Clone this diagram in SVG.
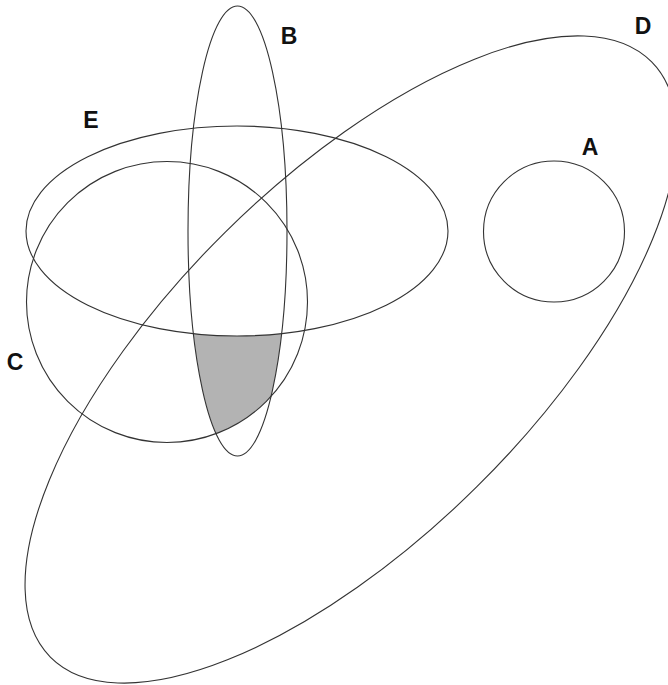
<svg xmlns="http://www.w3.org/2000/svg" width="668" height="685" viewBox="0 0 668 685">
<style>
.set{fill:none;stroke:#333;stroke-width:1.1}
.lbl{font-family:"Liberation Sans",Arial,sans-serif;font-weight:bold;font-size:23px;fill:#111;text-anchor:middle}
</style>
<defs>
<clipPath id="clipB"><ellipse cx="237.5" cy="231" rx="49.5" ry="225"/></clipPath>
<mask id="cMinusE" maskUnits="userSpaceOnUse" x="0" y="0" width="668" height="685">
<circle cx="167" cy="302" r="140.5" fill="#fff"/>
<ellipse cx="237" cy="231" rx="211" ry="105" fill="#000"/>
</mask>
</defs>
<rect width="668" height="685" fill="#fff"/>
<g id="shaded">
<rect x="0" y="0" width="668" height="685" fill="#b3b3b3" clip-path="url(#clipB)" mask="url(#cMinusE)"/>
</g>
<g id="D"><ellipse class="set" cx="351" cy="359.5" rx="423" ry="179" transform="rotate(-44.7 351 359.5)"/><text class="lbl" x="643" y="34">D</text></g>
<g id="E"><ellipse class="set" cx="237" cy="231" rx="211" ry="105"/><text class="lbl" x="91" y="128">E</text></g>
<g id="C"><circle class="set" cx="167" cy="302" r="140.5"/><text class="lbl" x="15" y="370">C</text></g>
<g id="B"><ellipse class="set" cx="237.5" cy="231" rx="49.5" ry="225"/><text class="lbl" x="289" y="44">B</text></g>
<g id="A"><circle class="set" cx="554" cy="231.5" r="70.5"/><text class="lbl" x="590" y="155">A</text></g>
<g id="connectors"/>
</svg>
